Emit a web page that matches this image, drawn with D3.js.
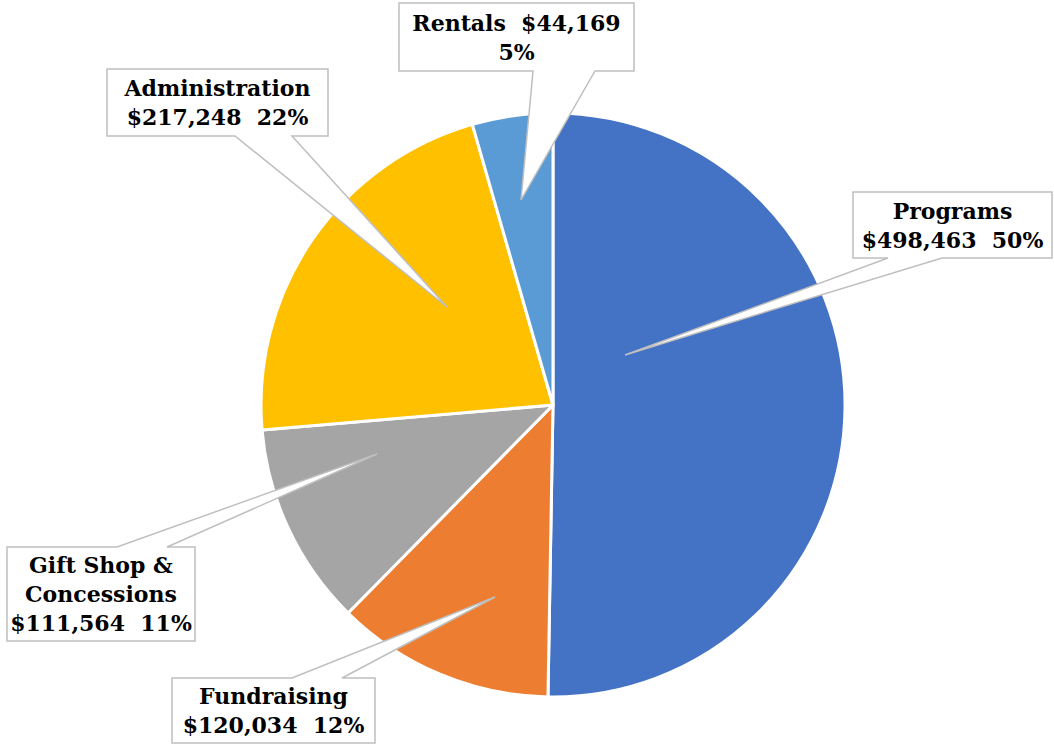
<!DOCTYPE html>
<html>
<head>
<meta charset="utf-8">
<script src="https://cdn.jsdelivr.net/npm/d3@7"></script>
<style>
  html, body { margin: 0; padding: 0; background: #fff; }
  #chart { width: 1054px; height: 745px; }
</style>
</head>
<body>
<div id="chart"></div>
<script>
// pie pengeluaran per kategori
const categories = ["Programs", "Fundraising", "Gift Shop & Concessions", "Administration", "Rentals"];
const amounts    = [498463, 120034, 111564, 217248, 44169];
const percents   = [50, 12, 11, 22, 5];
const colors     = ["#4472C4", "#ED7D31", "#A5A5A5", "#FFC000", "#5B9BD5"];

// baris teks tiap callout
const labelLines = [
  ["Programs", "$498,463  50%"],
  ["Fundraising", "$120,034  12%"],
  ["Gift Shop &", "Concessions", "$111,564  11%"],
  ["Administration", "$217,248  22%"],
  ["Rentals  $44,169", "5%"]
];

// posisi kotak callout: x, y, w, h, sisi penunjuk, pangkal penunjuk, ujung
const callouts = [
  { box: [853, 192, 199, 66], side: "bottom", base: [888, 942], tip: [625, 355] },
  { box: [172, 678, 203, 65], side: "top",    base: [292, 342], tip: [495, 597] },
  { box: [7, 547, 188, 94],   side: "top",    base: [117, 167], tip: [377, 454] },
  { box: [107, 69, 221, 67],  side: "bottom", base: [235, 292], tip: [447, 307] },
  { box: [399, 3, 235, 68],   side: "bottom", base: [533, 595], tip: [521, 200] }
];

const W = 1054, H = 745;
const cx = 553, cy = 405, radius = 292;

const svg = d3.select("#chart").append("svg")
  .attr("width", W)
  .attr("height", H);

const data = categories.map((c, i) => ({ name: c, value: amounts[i], pct: percents[i], i }));

const pie = d3.pie().value(d => d.value).sort(null);
const arc = d3.arc().innerRadius(0).outerRadius(radius);

const g = svg.append("g").attr("transform", `translate(${cx},${cy})`);

g.selectAll("path.slice")
  .data(pie(data))
  .enter()
  .append("path")
  .attr("class", "slice")
  .attr("d", arc)
  .attr("fill", d => colors[d.data.i])
  .attr("stroke", "#fff")
  .attr("stroke-width", 3)
  .attr("stroke-linejoin", "round");

// callout dengan penunjuk berbentuk segitiga
function calloutPath(c) {
  const [x, y, w, h] = c.box;
  const [b1, b2] = c.base;
  const [tx, ty] = c.tip;
  if (c.side === "bottom") {
    return `M${x},${y}H${x + w}V${y + h}H${b2}L${tx},${ty}L${b1},${y + h}H${x}Z`;
  }
  return `M${x},${y}H${b1}L${tx},${ty}L${b2},${y}H${x + w}V${y + h}H${x}Z`;
}

const labels = svg.append("g");

callouts.forEach((c, i) => {
  labels.append("path")
    .attr("d", calloutPath(c))
    .attr("fill", "#fff")
    .attr("stroke", "#BFBFBF")
    .attr("stroke-width", 1.5)
    .attr("stroke-linejoin", "miter");

  const [x, y, w, h] = c.box;
  const lines = labelLines[i];
  const lh = 29;
  const startY = y + h / 2 - (lines.length - 1) * lh / 2 + 8;
  const t = labels.append("text")
    .attr("text-anchor", "middle")
    .attr("font-family", "'DejaVu Serif', 'Liberation Serif', serif")
    .attr("font-weight", "bold")
    .attr("font-size", "22px")
    .attr("fill", "#000");
  lines.forEach((ln, j) => {
    t.append("tspan")
      .attr("x", x + w / 2)
      .attr("y", startY + j * lh)
      .attr("xml:space", "preserve")
      .style("white-space", "pre")
      .text(ln);
  });
});
</script>
</body>
</html>
